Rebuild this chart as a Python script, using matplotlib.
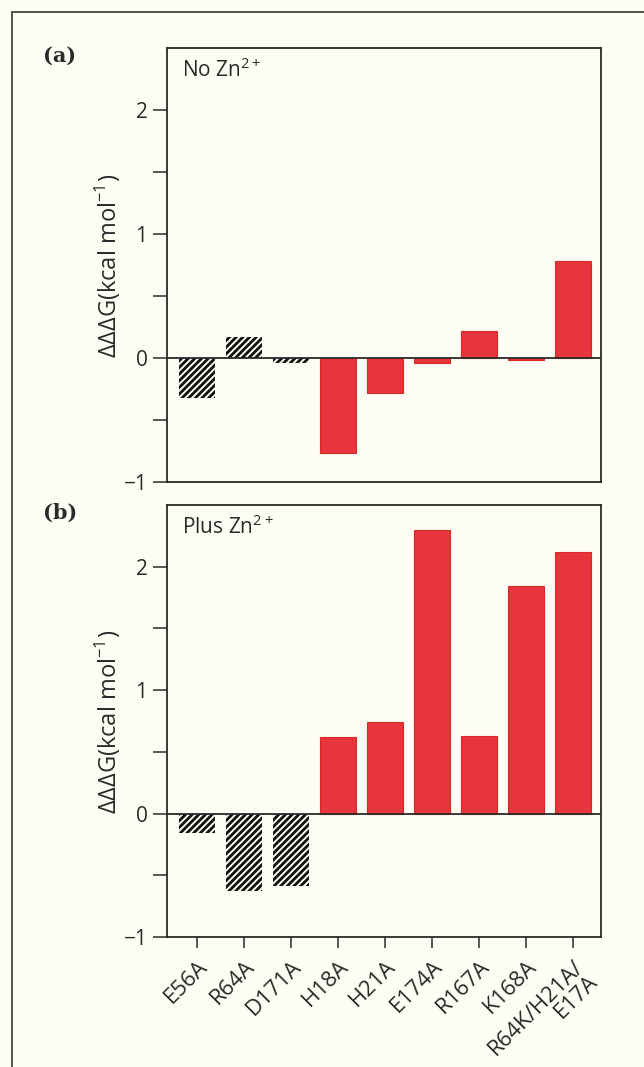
#ddG bar charts, no zinc vs plus zinc
import numpy as np
import matplotlib
matplotlib.use("Agg")
import matplotlib.pyplot as plt
from matplotlib.patches import Rectangle

#data
mutants = ['E56A', 'R64A', 'D171A', 'H18A', 'H21A', 'E174A', 'R167A', 'K168A', 'R64K/H21A/\nE17A']
no_zn = [-0.32, 0.17, -0.04, -0.77, -0.28, -0.04, 0.22, -0.02, 0.78]
plus_zn = [-0.16, -0.63, -0.59, 0.62, 0.74, 2.30, 0.63, 1.84, 2.12]
hatched = [True, True, True, False, False, False, False, False, False]

plt.rcParams['font.family'] = ['Open Sans', 'DejaVu Sans']
plt.rcParams['mathtext.fontset'] = 'custom'
plt.rcParams['mathtext.rm'] = 'Open Sans'
plt.rcParams['hatch.linewidth'] = 2.0

bg = '#fdfdf3'
red = '#e8343c'
ink = '#2a2a2a'

fig = plt.figure(figsize=(6.44, 10.67), dpi=100, facecolor=bg)

#outer frame of the figure box
fig.add_artist(Rectangle((12/644, -0.5), 2, 0.5 + 1 - 12/1067, transform=fig.transFigure,
                         fill=False, edgecolor='#444444', linewidth=1.3))

ax1 = fig.add_axes([167/644, 1-482/1067, 434/644, 434/1067])
ax2 = fig.add_axes([167/644, 1-937/1067, 434/644, 432/1067])

x = np.arange(len(mutants))

def draw(ax, vals, title, panel):
    ax.set_facecolor(bg)
    for i, v in enumerate(vals):
        if hatched[i]:
            ax.bar(x[i], v, width=0.78, facecolor='none', edgecolor='#111111',
                   linewidth=0, hatch='/////')
        else:
            ax.bar(x[i], v, width=0.78, color=red, edgecolor='#d62a22', linewidth=0.8)
    ax.axhline(0, color=ink, linewidth=1.3, zorder=3)
    ax.set_xlim(-0.64, 8.6)
    ax.set_ylim(-1, 2.5)
    ax.set_yticks([-1, 0, 1, 2])
    ax.set_yticklabels(['\u22121', '0', '1', '2'])
    ax.set_yticks([-0.5, 0.5, 1.5], minor=True)
    ax.tick_params(axis='y', which='both', direction='out', length=10, width=1.1,
                   color=ink, labelsize=15, labelcolor=ink, pad=4)
    for s in ax.spines.values():
        s.set_color(ink)
        s.set_linewidth(1.3)
    ax.text(0.035, 0.975, title, transform=ax.transAxes, ha='left', va='top',
            fontsize=15, color=ink)
    ax.text(-0.136, 0.74, '\u0394\u0394\u0394G(kcal mol$^{-1}$)', transform=ax.get_yaxis_transform(),
            rotation=90, ha='center', va='center', fontsize=17, color=ink)
    ax.text(-0.285, 1.005, panel, transform=ax.transAxes, ha='left', va='top',
            fontsize=15, fontweight='bold', family='DejaVu Serif', color=ink)

draw(ax1, no_zn, 'No Zn$^{2+}$', '(a)')
draw(ax2, plus_zn, 'Plus Zn$^{2+}$', '(b)')

ax1.set_xticks([])
ax2.set_xticks(x)
ax2.set_xticklabels(mutants, rotation=45, ha='right', va='top', rotation_mode='anchor',
                    fontsize=16, color=ink, linespacing=1.0)
ax2.tick_params(axis='x', direction='out', length=8, width=1.1, color=ink, pad=6)

plt.savefig('out.png', dpi=100, facecolor=bg)
